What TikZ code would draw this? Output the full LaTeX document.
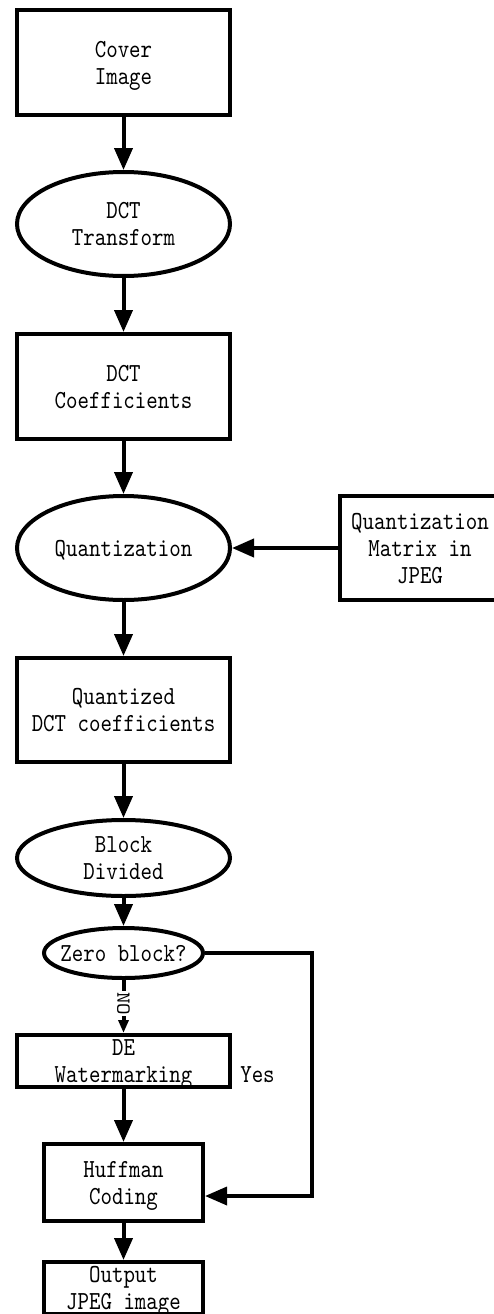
\documentclass[tikz,border=0pt]{standalone}
\usepackage{fontspec}
\usetikzlibrary{shapes.geometric,arrows.meta}
% narrow monospaced serif for the flowchart labels
\newfontfamily\flowfont[Extension=.otf, FakeStretch=0.84]{lmmono10-regular}
% variant for the small branch tag
\newfontfamily\tagfont[Extension=.otf, FakeStretch=1.1]{lmmono10-regular}
\begin{document}
\begin{tikzpicture}[x=1pt,y=-1pt,
  every node/.style={font=\flowfont\fontsize{26}{27}\selectfont, align=center, inner sep=0pt, text depth=0pt},
  box/.style={draw, line width=4pt, rectangle, minimum width=213pt},
  oval/.style={draw, line width=4pt, ellipse, minimum width=213pt},
  flow/.style={line width=4pt, -{Triangle[length=22pt,width=18pt]}},
  tag/.style={font=\tagfont\fontsize{20}{20}\selectfont, rotate=-90, fill=white, inner sep=1pt},
]
\useasboundingbox (0,0) rectangle (494,1314);

% processing chain
\node[box, minimum height=105pt] (cover) at (123.5,62.5) {Cover\\Image};
\node[oval, minimum height=104pt] (dct) at (123.5,224) {DCT\\Transform};
\node[box, minimum height=105pt] (coef) at (123.5,386.5) {DCT\\Coefficients};
\node[oval, minimum height=104pt] (quant) at (123.5,548) {Quantization};
\node[box, minimum width=160pt, minimum height=104pt] (qm) at (420,548) {Quantization\\Matrix in\\JPEG};
\node[box, minimum height=104pt] (qdct) at (123.5,710) {Quantized\\DCT coefficients};
\node[oval, minimum height=76pt] (block) at (123.5,858) {Block\\Divided};
\node[oval, minimum width=159pt, minimum height=50pt] (zero) at (123.5,953) {\makebox[0pt]{Zero block?}};
\node[box, minimum height=52pt] (de) at (123.5,1061) {DE\\Watermarking};
\node[box, minimum width=159pt, minimum height=77pt] (huff) at (123.5,1182.5) {Huffman\\Coding};
\node[box, minimum width=159pt, minimum height=52pt] (out) at (123.5,1288) {Output\\JPEG image};

% connectors
\draw[flow] (cover) -- (dct);
\draw[flow] (dct) -- (coef);
\draw[flow] (coef) -- (quant);
\draw[flow] (qm) -- (quant);
\draw[flow] (quant) -- (qdct);
\draw[flow] (qdct) -- (block);
\draw[flow] (block) -- (zero);
\draw[line width=4pt, -{Triangle[length=13pt,width=10pt]}] (zero) -- node[tag, pos=0.45] {NO} (de);
\draw[flow] (de) -- (huff);
\draw[flow] (huff) -- (out);

% "Yes" branch around the watermarking step
\coordinate (c1) at (312,953);
\coordinate (c2) at (312,1196);
\draw[flow, line width=3.5pt] (zero.east) -- (c1) -- (c2) -- (huff.east |- c2);
\node (yes) at (257.5,1075) {Yes};
\end{tikzpicture}
\end{document}
